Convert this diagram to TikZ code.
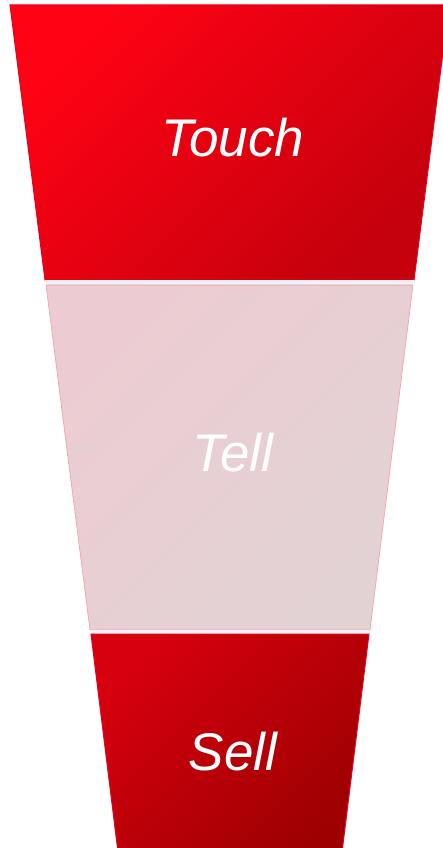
\documentclass[tikz,border=0pt]{standalone}
\usepackage{fontspec}
\setsansfont{Liberation Sans}
\definecolor{touchA}{RGB}{255,2,20}
\definecolor{touchB}{RGB}{196,0,12}
\definecolor{tellA}{RGB}{236,204,210}
\definecolor{tellB}{RGB}{226,210,212}
\definecolor{sellA}{RGB}{214,0,14}
\definecolor{sellB}{RGB}{158,0,2}
\definecolor{gapgray}{RGB}{238,243,245}
\definecolor{rim}{RGB}{232,0,30}

\begin{document}
\begin{tikzpicture}[x=1pt, y=-1pt,
    stage/.style = {draw=rim, line width=1pt},
    word/.style = {text=white, font=\sffamily\itshape\fontsize{53}{64}\selectfont}]
    \useasboundingbox (0,0) rectangle (443,848);
    \clip (0,0) rectangle (443,848);

    % funnel stages
    \shade[stage, top color=touchA, bottom color=touchB, shading angle=45]
        (10,5) -- (449,5) -- (414,280) -- (45,280) -- cycle;
    \fill[gapgray] (45,280) -- (414,280) -- (413,285) -- (46,285) -- cycle;
    \shade[stage, draw=rim!40, line width=0.6pt, top color=tellA, bottom color=tellB, shading angle=45]
        (46,285) -- (413,285) -- (370,630) -- (90,630) -- cycle;
    \fill[gapgray] (90,630) -- (370,630) -- (369,634) -- (91,634) -- cycle;
    \shade[stage, top color=sellA, bottom color=sellB, shading angle=45]
        (91,634) -- (369,634) -- (342,852) -- (118,852) -- cycle;

    % labels
    \node[word] (touch) at (233,138) {Touch};
    \node[word] (tell) at (233,453) {Tell};
    \node[word] (sell) at (233,752) {Sell};
\end{tikzpicture}
\end{document}
